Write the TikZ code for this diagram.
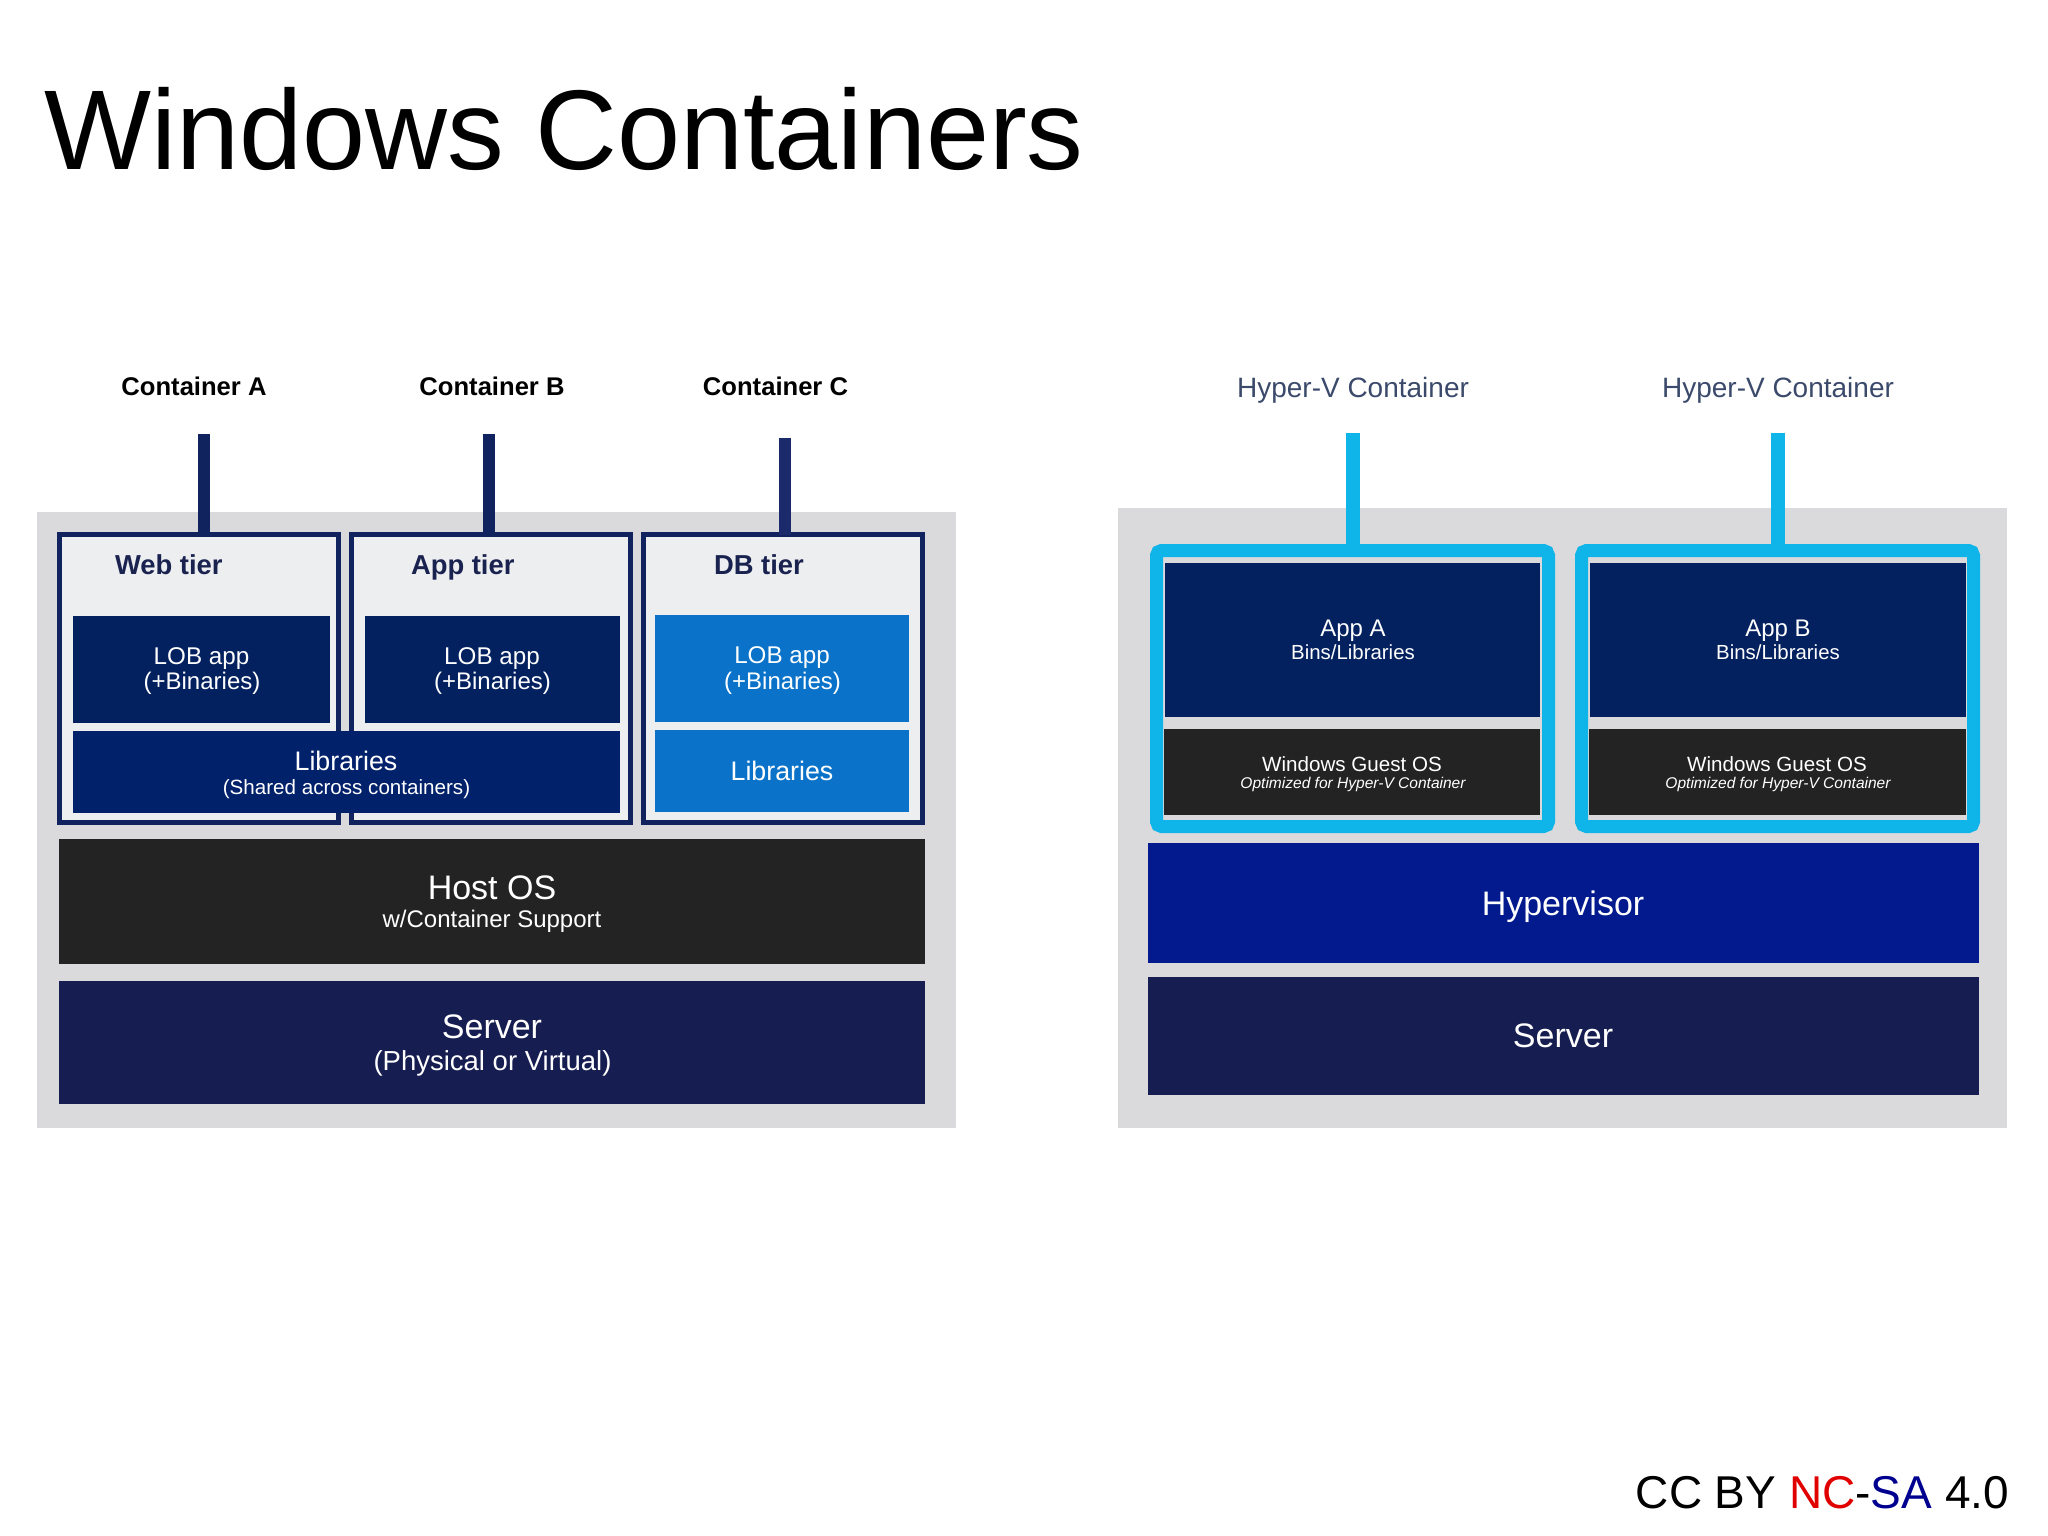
\documentclass[tikz,border=0pt]{standalone}
\usepackage{fontspec}
\setmainfont{Liberation Sans}
\definecolor{panel}{HTML}{DADADC}
\definecolor{tierfill}{HTML}{EDEEF0}
\definecolor{tierline}{HTML}{10235F}
\definecolor{stemc}{HTML}{1B2A6B}
\definecolor{navy}{HTML}{03215F}
\definecolor{libnavy}{HTML}{02216B}
\definecolor{lightblue}{HTML}{0A72C8}
\definecolor{coal}{HTML}{232323}
\definecolor{servernavy}{HTML}{161D50}
\definecolor{hypercyan}{HTML}{0FB5E8}
\definecolor{hyperblue}{HTML}{021A8E}
\definecolor{hvtext}{HTML}{3B4A6B}
\definecolor{tiertext}{HTML}{1A2350}
\definecolor{ccred}{HTML}{E00000}
\definecolor{ccblue}{HTML}{000090}
\newcommand\bx[6]{%
  \pgfmathsetmacro\bxcx{(#2+#4)/2}%
  \pgfmathsetmacro\bxcy{(#3+#5)/2}%
  \node[box,#6,minimum width={(#4-#2)*0.5pt},minimum height={(#5-#3)*0.5pt}] (#1) at (\bxcx,\bxcy) {};%
}
\tikzset{
  box/.style={rectangle,inner sep=0pt,outer sep=0pt,draw=none},
  tier/.style={fill=tierfill,draw=tierline,line width=2.5pt},
  hvbox/.style={fill=panel,draw=hypercyan,line width=6.5pt,rounded corners=2.5pt},
  lbl/.style={anchor=base,inner sep=0pt,outer sep=0pt,text=white},
  sz/.style={font=\fontsize{#1}{#1}\selectfont},
  stem/.style={draw=tierline,line width=6pt},
  cstem/.style={draw=hypercyan,line width=7pt},
}
\begin{document}
\begin{tikzpicture}[x=0.5pt,y=-0.5pt]
\useasboundingbox[fill=white] (0,0) rectangle (2048,1535);
\node[lbl,anchor=base west,text=black,sz=56.7] (title) at (44,170) {Windows Containers};
% left panel
\bx{lpanel}{36.5}{512}{955.5}{1128}{fill=panel}
\coordinate (sa) at (204,434);
\coordinate (sb) at (489,434);
\coordinate (sc) at (784.5,438);
\bx{web}{59.5}{534.5}{338.5}{822.5}{tier}
\bx{app}{351.5}{534.5}{630.5}{822.5}{tier}
\bx{db}{643.5}{534.5}{922.5}{822.5}{tier}
\draw[stem] (sa) -- (sa |- web.north);
\draw[stem] (sb) -- (sb |- app.north);
\draw[stem,draw=stemc] (sc) -- (sc |- db.north);
\bx{loba}{73}{616}{330}{723}{fill=navy}
\bx{lobb}{365}{616}{620}{723}{fill=navy}
\bx{lobc}{655}{615}{909}{722}{fill=lightblue}
\bx{libs}{73}{731}{620}{813}{fill=libnavy}
\bx{libc}{655}{730}{909}{812}{fill=lightblue}
\bx{host}{59}{839}{925}{964}{fill=coal}
\bx{lserver}{59}{981}{925}{1104}{fill=servernavy}
\node[lbl,sz=12.8,text=black] (ca) at (194,395) {\bfseries Container A};
\node[lbl,sz=12.8,text=black] (cb) at (492,395) {\bfseries Container B};
\node[lbl,sz=12.8,text=black] (cc) at (775.5,395) {\bfseries Container C};
\node[lbl,anchor=base west,sz=13.7,text=tiertext] (wt) at (115,574) {\bfseries Web tier};
\node[lbl,anchor=base west,sz=13.7,text=tiertext] (at) at (411,574) {\bfseries App tier};
\node[lbl,anchor=base west,sz=13.7,text=tiertext] (dt) at (714,574) {\bfseries DB tier};
\node[lbl,sz=12.1] (la1) at (201.5,664) {LOB app};
\node[lbl,sz=12] (la2) at (202,689) {(+Binaries)};
\node[lbl,sz=12.1] (lb1) at (492,664) {LOB app};
\node[lbl,sz=12] (lb2) at (492.5,689) {(+Binaries)};
\node[lbl,sz=12.1] (lc1) at (782,663) {LOB app};
\node[lbl,sz=12] (lc2) at (782.5,689) {(+Binaries)};
\node[lbl,sz=13.4] (ls1) at (346,770) {Libraries};
\node[lbl,sz=10.3] (ls2) at (346.5,794) {(Shared across containers)};
\node[lbl,sz=13.4] (lc3) at (782,780) {Libraries};
\node[lbl,sz=17] (h1) at (492,899) {Host OS};
\node[lbl,sz=12] (h2) at (492,927) {w/Container Support};
\node[lbl,sz=17] (s1) at (492,1038) {Server};
\node[lbl,sz=13.75] (s2) at (492.5,1070) {(Physical or Virtual)};
% right panel
\bx{rpanel}{1118}{508}{2007}{1128}{fill=panel}
\coordinate (sd) at (1352.5,433);
\coordinate (se) at (1778,433);
\bx{hva}{1156.5}{550.5}{1548.5}{826.5}{hvbox}
\bx{hvb}{1581.5}{550.5}{1973.5}{826.5}{hvbox}
\draw[cstem] (sd) -- (sd |- hva.north);
\draw[cstem] (se) -- (se |- hvb.north);
\bx{appa}{1165}{563}{1540}{717}{fill=navy}
\bx{appb}{1590}{563}{1966}{717}{fill=navy}
\bx{gosa}{1164}{729}{1540}{815}{fill=coal}
\bx{gosb}{1589}{729}{1966}{815}{fill=coal}
\bx{hyper}{1148}{843}{1979}{963}{fill=hyperblue}
\bx{rserver}{1148}{977}{1979}{1095}{fill=servernavy}
\node[lbl,sz=14,text=hvtext] (hv1) at (1353,397) {Hyper-V Container};
\node[lbl,sz=14,text=hvtext] (hv2) at (1778,397) {Hyper-V Container};
\node[lbl,sz=12] (aa1) at (1353,636) {App A};
\node[lbl,sz=10.2] (aa2) at (1353,659) {Bins/Libraries};
\node[lbl,sz=12] (ab1) at (1778,636) {App B};
\node[lbl,sz=10.2] (ab2) at (1778,659) {Bins/Libraries};
\node[lbl,sz=10.3] (ga1) at (1352,771) {Windows Guest OS};
\node[lbl,sz=7.77] (ga2) at (1353,788) {\itshape Optimized for Hyper-V Container};
\node[lbl,sz=10.3] (gb1) at (1777,771) {Windows Guest OS};
\node[lbl,sz=7.77] (gb2) at (1778,788) {\itshape Optimized for Hyper-V Container};
\node[lbl,sz=17] (hy) at (1563,915) {Hypervisor};
\node[lbl,sz=17] (rs) at (1563,1047) {Server};
\node[lbl,anchor=base east,text=black,sz=23] (cc0) at (2009,1508) {CC BY \textcolor{ccred}{NC}-\textcolor{ccblue}{SA} 4.0};
\end{tikzpicture}
\end{document}
